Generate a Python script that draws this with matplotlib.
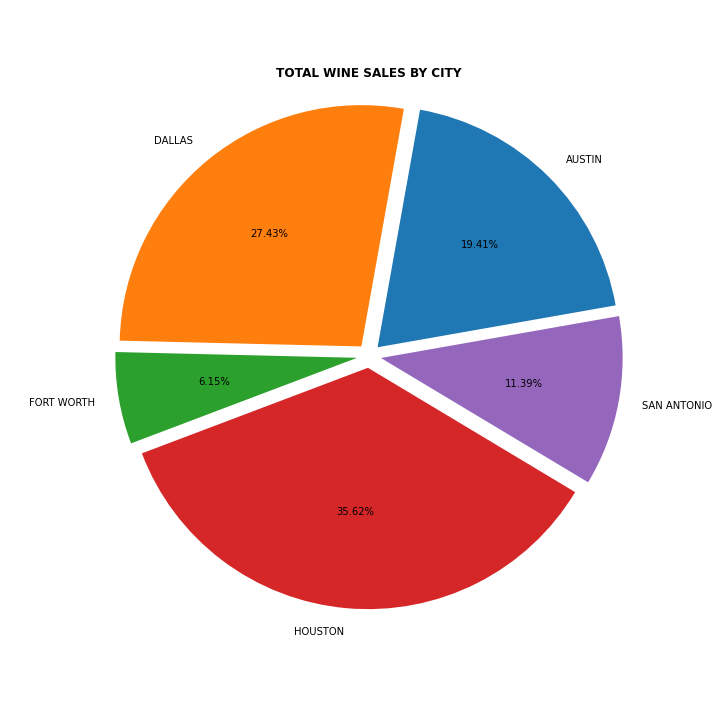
import matplotlib
matplotlib.use("Agg")
import matplotlib.pyplot as plt

# share of total wine sales (percent) per city
cities = ["AUSTIN", "DALLAS", "FORT WORTH", "HOUSTON", "SAN ANTONIO"]
sales_pct = [19.41, 27.43, 6.15, 35.62, 11.39]
explode = [0.05, 0.05, 0.05, 0.05, 0.05]

fig = plt.figure(figsize=(10, 10), dpi=72)
# nudge the axes up a little so the pie sits where it does in the original
fig.subplots_adjust(bottom=0.119, top=0.889)
plt.pie(sales_pct, labels=cities, explode=explode, autopct="%.2f%%",
        startangle=10)
plt.axis("equal")
plt.title("TOTAL WINE SALES BY CITY", fontweight="bold", pad=0.5)

fig.savefig("out.png", dpi=72)
